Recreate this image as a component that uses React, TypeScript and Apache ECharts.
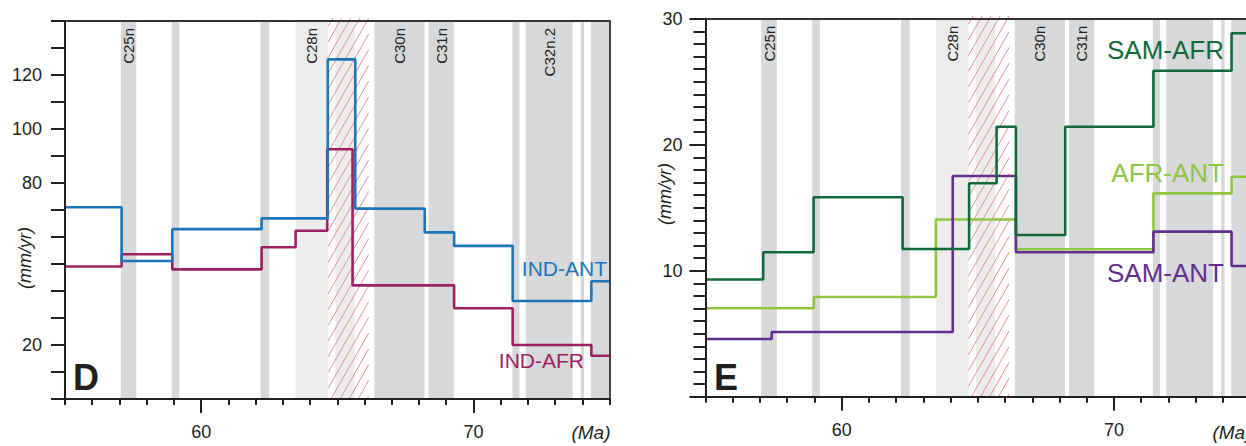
import React, { useEffect, useRef } from "react";
import * as echarts from "echarts";

// ---- data ----
const AGE_MIN = 55;
const AGE_MAX = 75;
const MAJOR_AGES = [60, 70];

// chrons: [start Ma, end Ma, label]
const darkChrons: [number, number, string][] = [
  [57.05, 57.62, "C25n"],
  [58.92, 59.2, ""],
  [62.18, 62.5, ""],
  [66.36, 68.2, "C30n"],
  [68.35, 69.28, "C31n"],
  [71.43, 71.69, ""],
  [71.92, 73.64, "C32n.2"],
  [73.94, 74.06, ""],
  [74.31, 75, ""],
];
const lightChrons: [number, number, string][] = [
  [63.47, 64.66, "C28n"],
  [64.93, 65.64, ""],
];
const hatchInterval: [number, number] = [64.66, 66.15];
const rightPanelHiddenLabels = ["C32n.2"];

// panel D (mm/yr)
const indAntBreaks = [55, 57.08, 58.94, 62.22, 64.65, 65.66, 68.21, 69.29, 71.44, 74.33, 75];
const indAntRates = [71.0, 51.1, 62.9, 66.9, 125.8, 70.5, 61.7, 56.7, 36.3, 43.6];
const indAfrBreaks = [55, 57.08, 58.94, 62.22, 63.47, 64.63, 65.56, 69.29, 71.44, 74.33, 75];
const indAfrRates = [49.1, 53.6, 48.0, 56.2, 62.3, 92.5, 42.1, 33.6, 20.0, 16.0];

// panel E (mm/yr)
const samAfrBreaks = [55, 57.12, 58.97, 62.24, 64.68, 65.69, 66.4, 68.21, 71.45, 74.32, 75];
const samAfrRates = [9.3, 11.46, 15.83, 11.72, 16.94, 21.43, 12.83, 21.43, 25.87, 28.84];
const afrAntBreaks = [55, 58.98, 63.46, 66.4, 71.45, 74.32, 75];
const afrAntRates = [7.02, 7.91, 14.06, 11.7, 16.14, 17.46];
const samAntBreaks = [55, 57.43, 64.08, 66.4, 71.45, 74.32, 75];
const samAntRates = [4.58, 5.13, 17.52, 11.46, 13.1, 10.37];

const D_MAX = 140;
const D_LABELS = [20, 80, 100, 120];
const E_MAX = 30;
const E_LABELS = [10, 20, 30];

// ---- styles ----
const FONT = '"Liberation Sans", Arial, Helvetica, sans-serif';
const INK = "#231f20";
const C_INDANT = "#1b75bb";
const C_INDAFR = "#9e1f63";
const C_SAMAFR = "#0f6c3a";
const C_AFRANT = "#8dc63f";
const C_SAMANT = "#662d91";
const C_DARK = "#d7d8da";
const C_LIGHT = "#ececec";
const C_HATCH = "#e58f97";

function stepPoints(breaks: number[], vals: number[]) {
  const pts: number[][] = vals.map((v, i) => [breaks[i], v]);
  pts.push([breaks[breaks.length - 1], vals[vals.length - 1]]);
  return pts;
}

function bandSeries(xIdx: number, yIdx: number, yMax: number, hidden: string[]) {
  const data: any[] = [];
  lightChrons.forEach((c) => data.push([c[0], c[1], 1, c[2]]));
  darkChrons.forEach((c) => data.push([c[0], c[1], 0, hidden.includes(c[2]) ? "" : c[2]]));
  data.push([hatchInterval[0], hatchInterval[1], 2, ""]);
  return {
    type: "custom",
    xAxisIndex: xIdx,
    yAxisIndex: yIdx,
    z: 1,
    silent: true,
    data,
    encode: { x: [0, 1], y: 2 },
    renderItem: (params: any, api: any) => {
      const s = api.coord([api.value(0), yMax]);
      const e = api.coord([api.value(1), 0]);
      const kind = api.value(2);
      const label = data[params.dataIndex][3];
      const x1 = s[0], y1 = s[1], x2 = e[0], y2 = e[1];
      const children: any[] = [];
      if (kind === 2) {
        const k = 1.75;
        const step = 9;
        // lines: x + y/k = c
        const cMin = x1 + y1 / k;
        const cMax = x2 + y2 / k;
        for (let c = cMin + 3; c < cMax; c += step) {
          const ya = Math.max(y1 - 3, k * (c - x2));
          const yb = Math.min(y2, k * (c - x1));
          if (yb <= ya) continue;
          children.push({
            type: "line",
            shape: { x1: c - ya / k, y1: ya, x2: c - yb / k, y2: yb },
            style: { stroke: C_HATCH, lineWidth: 1 },
          });
        }
      } else {
        children.push({
          type: "rect",
          shape: { x: x1, y: y1, width: x2 - x1, height: y2 - y1 },
          style: { fill: kind === 1 ? C_LIGHT : C_DARK },
        });
      }
      if (label) {
        children.push({
          type: "text",
          x: (x1 + x2) / 2,
          y: y1 + 7,
          rotation: Math.PI / 2,
          style: {
            text: label,
            fill: INK,
            font: `15px ${FONT}`,
            align: "right",
            verticalAlign: "middle",
          },
        });
      }
      return { type: "group", children };
    },
  };
}

function lineSeries(name: string, color: string, breaks: number[], vals: number[], xIdx: number, yIdx: number) {
  return {
    type: "line",
    name,
    xAxisIndex: xIdx,
    yAxisIndex: yIdx,
    step: "end",
    showSymbol: false,
    symbol: "none",
    z: 5,
    silent: true,
    lineStyle: { color, width: 2.6 },
    data: stepPoints(breaks, vals),
  };
}

const axisLineStyle = { color: INK, width: 2 };
const labelStyle = { color: INK, fontSize: 18, fontFamily: FONT };

function xAxes(gridIndex: number) {
  return [
    {
      type: "value", gridIndex, position: "bottom", min: AGE_MIN, max: AGE_MAX, interval: 1, z: 10,
      axisLine: { show: true, lineStyle: axisLineStyle },
      axisTick: { show: true, length: 6, lineStyle: axisLineStyle },
      axisLabel: { show: false }, splitLine: { show: false },
    },
    {
      type: "value", gridIndex, position: "bottom", min: AGE_MIN, max: AGE_MAX, z: 10,
      axisLine: { show: false },
      axisTick: { show: true, length: 14, customValues: MAJOR_AGES, lineStyle: axisLineStyle },
      axisLabel: { show: true, customValues: MAJOR_AGES, margin: 24, ...labelStyle },
      splitLine: { show: false },
    },
    {
      type: "value", gridIndex, position: "top", min: AGE_MIN, max: AGE_MAX, z: 10,
      axisLine: { show: true, lineStyle: { color: "#333", width: 2 } },
      axisTick: { show: false }, axisLabel: { show: false }, splitLine: { show: false },
    },
  ];
}

export default function App() {
  const ref = useRef<HTMLDivElement>(null);
  useEffect(() => {
    if (!ref.current) return;
    const chart = echarts.init(ref.current, null, { renderer: "svg" });
    const option: any = {
      animation: false,
      textStyle: { fontFamily: FONT },
      grid: [
        { left: 65, top: 21, width: 544.6, height: 378, outerBoundsMode: "none" },
        { left: 705.5, top: 18.7, width: 544.6, height: 378, outerBoundsMode: "none" },
      ],
      xAxis: [...xAxes(0), ...xAxes(1)],
      yAxis: [
        {
          type: "value", gridIndex: 0, position: "left", min: 0, max: D_MAX, interval: 10, z: 10,
          axisLine: { show: true, lineStyle: axisLineStyle },
          axisTick: { show: true, length: 14, lineStyle: axisLineStyle },
          axisLabel: { show: true, customValues: D_LABELS, margin: 23, ...labelStyle },
          splitLine: { show: false },
        },
        {
          type: "value", gridIndex: 0, position: "right", min: 0, max: D_MAX, z: 10,
          axisLine: { show: true, lineStyle: { color: "#444", width: 2 } },
          axisTick: { show: false }, axisLabel: { show: false }, splitLine: { show: false },
        },
        {
          type: "value", gridIndex: 1, position: "left", min: 0, max: E_MAX, interval: 1, z: 10,
          axisLine: { show: true, lineStyle: axisLineStyle },
          axisTick: { show: true, length: 12, lineStyle: axisLineStyle },
          axisLabel: { show: false }, splitLine: { show: false },
        },
        {
          type: "value", gridIndex: 1, position: "left", min: 0, max: E_MAX, z: 10,
          axisLine: { show: false },
          axisTick: { show: true, length: 16, customValues: [0, ...E_LABELS], lineStyle: axisLineStyle },
          axisLabel: { show: true, customValues: E_LABELS, margin: 23, ...labelStyle },
          splitLine: { show: false },
        },
      ],
      series: [
        bandSeries(0, 0, D_MAX, []),
        bandSeries(3, 2, E_MAX, rightPanelHiddenLabels),
        lineSeries("IND-AFR", C_INDAFR, indAfrBreaks, indAfrRates, 0, 0),
        lineSeries("IND-ANT", C_INDANT, indAntBreaks, indAntRates, 0, 0),
        lineSeries("AFR-ANT", C_AFRANT, afrAntBreaks, afrAntRates, 3, 2),
        lineSeries("SAM-ANT", C_SAMANT, samAntBreaks, samAntRates, 3, 2),
        lineSeries("SAM-AFR", C_SAMAFR, samAfrBreaks, samAfrRates, 3, 2),
      ],
      graphic: [
        { type: "text", x: 25, y: 258, rotation: Math.PI / 2, z: 20,
          style: { text: "(mm/yr)", font: `italic 18px ${FONT}`, fill: INK, align: "center", verticalAlign: "middle" } },
        { type: "text", x: 665, y: 194, rotation: Math.PI / 2, z: 20,
          style: { text: "(mm/yr)", font: `italic 18px ${FONT}`, fill: INK, align: "center", verticalAlign: "middle" } },
        { type: "text", x: 591, y: 432, z: 20,
          style: { text: "(Ma)", font: `italic 19px ${FONT}`, fill: INK, align: "center", verticalAlign: "middle" } },
        { type: "text", x: 1232, y: 432, z: 20,
          style: { text: "(Ma)", font: `italic 19px ${FONT}`, fill: INK, align: "center", verticalAlign: "middle" } },
        { type: "text", x: 73, y: 377, z: 20,
          style: { text: "D", font: `bold 36px ${FONT}`, fill: INK, align: "left", verticalAlign: "middle" } },
        { type: "text", x: 714, y: 377, z: 20,
          style: { text: "E", font: `bold 36px ${FONT}`, fill: INK, align: "left", verticalAlign: "middle" } },
        { type: "text", x: 607, y: 268, z: 20,
          style: { text: "IND-ANT", font: `21px ${FONT}`, fill: C_INDANT, align: "right", verticalAlign: "middle" } },
        { type: "text", x: 584, y: 360, z: 20,
          style: { text: "IND-AFR", font: `21px ${FONT}`, fill: C_INDAFR, align: "right", verticalAlign: "middle" } },
        { type: "text", x: 1224, y: 50, z: 20,
          style: { text: "SAM-AFR", font: `26px ${FONT}`, fill: C_SAMAFR, align: "right", verticalAlign: "middle" } },
        { type: "text", x: 1224, y: 173, z: 20,
          style: { text: "AFR-ANT", font: `26px ${FONT}`, fill: C_AFRANT, align: "right", verticalAlign: "middle" } },
        { type: "text", x: 1224, y: 273, z: 20,
          style: { text: "SAM-ANT", font: `26px ${FONT}`, fill: C_SAMANT, align: "right", verticalAlign: "middle" } },
      ],
    };
    chart.setOption(option);
    return () => chart.dispose();
  }, []);
  return (
    <div
      ref={ref}
      style={{ position: "absolute", left: 0, top: 0, width: 1246, height: 446, overflow: "hidden", background: "#fff" }}
    />
  );
}
